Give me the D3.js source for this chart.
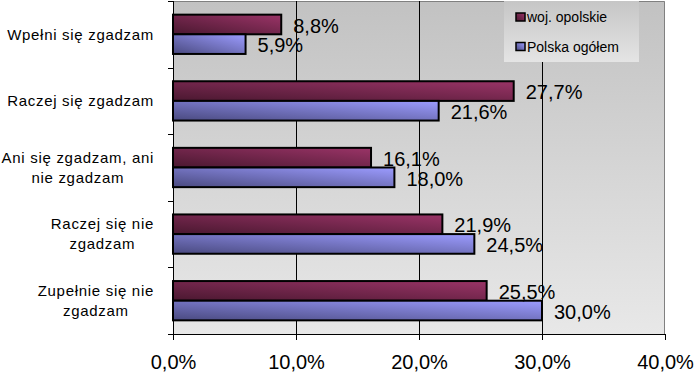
<!DOCTYPE html>
<html>
<head>
<meta charset="utf-8">
<script src="https://cdn.jsdelivr.net/npm/d3@7"></script>
<style>
  body { margin: 0; background: #fff; }
  svg { display: block; font-family: Arial, "Liberation Sans", sans-serif; }
</style>
</head>
<body>
<div id="chart"></div>
<script>
// data
const categories = ['Wpełni się zgadzam', 'Raczej się zgadzam', 'Ani się zgadzam, ani nie zgadzam', 'Raczej się nie zgadzam', 'Zupełnie się nie zgadzam']
const categoryLines = [
  ['Wpełni się zgadzam'],
  ['Raczej się zgadzam'],
  ['Ani się zgadzam, ani', 'nie zgadzam'],
  ['Raczej się nie', 'zgadzam'],
  ['Zupełnie się nie', 'zgadzam']
]
const seriesNames = ['woj. opolskie', 'Polska ogółem']
const opolskie = [8.8, 27.7, 16.1, 21.9, 25.5]
const polska = [5.9, 21.6, 18.0, 24.5, 30.0]
const xTicks = [0, 10, 20, 30, 40]

const W = 698
const H = 375
const margin = { t: 1, r: 33, b: 41, l: 173 }
const innerWidth = W - margin.l - margin.r
const innerHeight = H - margin.t - margin.b

const fmt = v => d3.format('.1f')(v).replace('.', ',') + '%'

const rows = categories.map((c, i) => ({
  cat: c,
  lines: categoryLines[i],
  vals: [
    { key: seriesNames[0], v: opolskie[i] },
    { key: seriesNames[1], v: polska[i] }
  ]
}))

const scaleX = d3.scaleLinear().domain([0, 40]).range([margin.l, margin.l + innerWidth])
const scaleY = d3.scaleBand().domain(categories).range([margin.t, margin.t + innerHeight])
  .paddingInner(0.41).paddingOuter(0.205)
const scaleS = d3.scaleBand().domain(seriesNames).range([0, scaleY.bandwidth()])
const gradId = d3.scaleOrdinal().domain(seriesNames).range(['gRed', 'gBlue'])

const svg = d3.select('#chart').append('svg')
  .attr('width', W)
  .attr('height', H)

const defs = svg.append('defs')
function grad(id, x1, y1, x2, y2, c1, c2) {
  const g = defs.append('linearGradient').attr('id', id)
    .attr('x1', x1).attr('y1', y1).attr('x2', x2).attr('y2', y2)
  g.append('stop').attr('offset', '0%').attr('stop-color', c1)
  g.append('stop').attr('offset', '100%').attr('stop-color', c2)
}
grad('gBg', 0, 0, 0, 1, '#c2c2c2', '#e8e8e8')
grad('gLeg', 0, 0, 0, 1, '#c6c6c6', '#e4e4e4')
grad('gRed', 0, 1, 1, 0, '#4a1830', '#9a3467')
grad('gBlue', 0, 1, 1, 0, '#4a4a80', '#9c9cff')

const x0 = margin.l
const x1 = margin.l + innerWidth
const yTop = margin.t
const yBot = margin.t + innerHeight

// plot area background
svg.append('rect')
  .attr('x', x0).attr('y', yTop)
  .attr('width', innerWidth)
  .attr('height', innerHeight)
  .attr('fill', 'url(#gBg)')

svg.append('path')
  .attr('d', `M${x0},${yTop + 0.5}H${x1 - 0.5}V${yBot}`)
  .attr('fill', 'none')
  .attr('stroke', '#808080')

// gridlines
svg.selectAll('.grid')
  .data(xTicks.slice(1, -1))
  .enter()
  .append('line')
  .attr('class', 'grid')
  .attr('x1', d => Math.round(scaleX(d)) + 0.5)
  .attr('x2', d => Math.round(scaleX(d)) + 0.5)
  .attr('y1', yTop)
  .attr('y2', yBot)
  .attr('stroke', '#000')

// legend (covers gridline)
const legend = svg.append('g').attr('transform', 'translate(504, 1)')
legend.append('rect')
  .attr('width', 135)
  .attr('height', 61)
  .attr('fill', 'url(#gLeg)')
const legItem = legend.selectAll('.leg')
  .data(seriesNames)
  .enter()
  .append('g')
  .attr('transform', (d, i) => `translate(12, ${12 + i * 29.5})`)
legItem.append('rect')
  .attr('width', 9)
  .attr('height', 8)
  .attr('fill', d => `url(#${gradId(d)})`)
  .attr('stroke', '#000')
  .attr('stroke-width', 1.5)
legItem.append('text')
  .attr('x', 11)
  .attr('y', 9)
  .attr('font-size', 14)
  .text(d => d)

// bars
const group = svg.selectAll('.cat')
  .data(rows)
  .enter()
  .append('g')
  .attr('class', 'cat')
  .attr('transform', d => `translate(0, ${scaleY(d.cat)})`)

group.selectAll('rect')
  .data(d => d.vals)
  .enter()
  .append('rect')
  .attr('x', x0)
  .attr('y', d => scaleS(d.key))
  .attr('width', d => scaleX(d.v) - x0)
  .attr('height', scaleS.bandwidth())
  .attr('fill', d => `url(#${gradId(d.key)})`)
  .attr('stroke', '#000')
  .attr('stroke-width', 2)

group.selectAll('.val')
  .data(d => d.vals)
  .enter()
  .append('text')
  .attr('class', 'val')
  .attr('x', d => scaleX(d.v) + 12)
  .attr('y', d => scaleS(d.key) + scaleS.bandwidth() / 2 + 1)
  .attr('dy', '0.36em')
  .attr('font-size', 20)
  .text(d => fmt(d.v))

// x axis
const axisX = d3.axisBottom(scaleX)
  .tickValues(xTicks)
  .tickSize(6)
  .tickPadding(15)
  .tickFormat(fmt)
const gx = svg.append('g')
  .attr('class', 'axis axis-x')
  .attr('transform', `translate(0, ${yBot})`)
  .call(axisX)
gx.select('.domain').attr('d', `M${x0 - 2},0.5H${x1}`).attr('stroke', '#000')
gx.selectAll('text').attr('font-size', 20).attr('fill', '#000').attr('font-family', 'Arial, "Liberation Sans", sans-serif')

// y axis
svg.append('line')
  .attr('x1', x0 + 0.5).attr('x2', x0 + 0.5)
  .attr('y1', yTop).attr('y2', yBot)
  .attr('stroke', '#000')
svg.selectAll('.ytick')
  .data(d3.range(categories.length + 1))
  .enter()
  .append('line')
  .attr('class', 'ytick')
  .attr('x1', x0 - 5).attr('x2', x0)
  .attr('y1', i => Math.round(yTop + i * scaleY.step()) + 0.5)
  .attr('y2', i => Math.round(yTop + i * scaleY.step()) + 0.5)
  .attr('stroke', '#000')

// category labels, lines centered, block right-aligned
const labRight = 154
const labGroup = svg.selectAll('.lab')
  .data(rows)
  .enter()
  .append('g')
  .attr('class', 'lab')

labGroup.each(function(d) {
  const g = d3.select(this)
  const cy = scaleY(d.cat) + scaleY.bandwidth() / 2
  const lh = 20
  const texts = d.lines.map((ln, i) => g.append('text')
    .attr('y', cy + (i - (d.lines.length - 1) / 2) * lh)
    .attr('dy', '0.35em')
    .attr('font-size', 15)
    .attr('letter-spacing', '0.7px')
    .attr('text-anchor', 'middle')
    .text(ln))
  const maxW = d3.max(texts, t => t.node().getComputedTextLength())
  texts.forEach(t => t.attr('x', labRight - maxW / 2))
})
</script>
</body>
</html>
